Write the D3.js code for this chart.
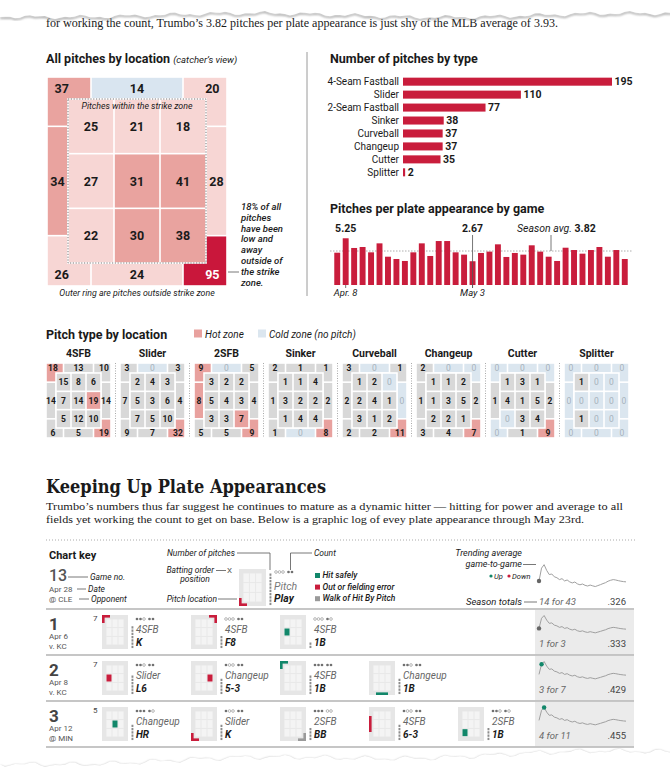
<!DOCTYPE html>
<html>
<head>
<meta charset="utf-8">
<script src="https://d3js.org/d3.v7.min.js"></script>
<style>
  body { margin: 0; background: #fff; }
  svg { display: block; }
  text { font-family: Roboto, "Liberation Sans", sans-serif; fill: #1a1a1a; }
  .title { font-size: 12.5px; font-weight: 700; }
  .it { font-style: italic; }
  .serif { font-family: "Liberation Serif", "DejaVu Serif", serif; }
  .slab { font-family: "DejaVu Serif", serif; font-weight: 700; }
</style>
</head>
<body>
<svg id="page" width="670" height="777"></svg>
<script>
// ---------- data ----------
const topText = "for working the count, Trumbo’s 3.82 pitches per plate appearance is just shy of the MLB average of 3.93.";

// zone cells: outer ring [TL, T, TR, L, R, BL, B, BR], inner 3x3 row by row
const zoneOuter = [37, 14, 20, 34, 28, 26, 24, 95];
const zoneInner = [25, 21, 18, 27, 31, 41, 22, 30, 38];
const zoneNote = ["18% of all", "pitches", "have been", "low and", "away", "outside of", "the strike", "zone."];

const pitchTypes = ["4-Seam Fastball", "Slider", "2-Seam Fastball", "Sinker", "Curveball", "Changeup", "Cutter", "Splitter"];
const pitchCounts = [195, 110, 77, 38, 37, 37, 35, 2];

const ppaValues = [3.63, 5.25, 4.16, 4.27, 3.67, 4.68, 3.18, 2.92, 2.70, 3.67, 4.68, 3.26,
  4.94, 4.94, 3.67, 3.41, 2.67, 3.60, 3.75, 4.57, 3.15, 3.60, 3.41, 4.46, 3.75, 3.18,
  2.70, 4.19, 3.93, 3.52, 3.93, 4.27, 3.18, 3.93, 2.92];
const ppaSeasonAvg = 3.82;
const ppaTickGames = [1, 16];
const ppaTickLabels = ["Apr. 8", "May 3"];

const typeNames = ["4SFB", "Slider", "2SFB", "Sinker", "Curveball", "Changeup", "Cutter", "Splitter"];
const typeOuter = [
  [18, 13, 10, 14, 14, 6, 5, 19],
  [3, 0, 3, 7, 4, 9, 7, 32],
  [9, 0, 5, 8, 4, 5, 5, 9],
  [2, 1, 1, 1, 2, 1, 0, 8],
  [3, 0, 1, 2, 0, 2, 2, 11],
  [2, 0, 0, 1, 2, 3, 4, 7],
  [0, 0, 0, 1, 2, 0, 1, 9],
  [0, 0, 0, 0, 0, 0, 0, 0]
];
const typeInner = [
  [15, 8, 6, 7, 14, 19, 5, 12, 10],
  [2, 4, 3, 5, 3, 6, 7, 5, 10],
  [3, 2, 2, 5, 4, 3, 3, 3, 7],
  [1, 1, 4, 3, 2, 2, 1, 4, 4],
  [1, 2, 0, 2, 4, 1, 3, 1, 2],
  [1, 1, 2, 1, 3, 5, 2, 2, 1],
  [1, 3, 1, 4, 1, 5, 0, 3, 4],
  [1, 0, 0, 0, 0, 0, 1, 0, 0]
];
// hot cells, same numbering (0-7 outer, 8-16 inner)
const typeHot = [[0, 7, 13], [7], [0, 3, 7, 16], [7], [7], [7], [7], []];

const introLines = [
  "Trumbo’s numbers thus far suggest he continues to mature as a dynamic hitter — hitting for power and average to all",
  "fields yet working the count to get on base. Below is a graphic log of evey plate appearance through May 23rd."
];

const gameNumbers = [1, 2, 3];
const gameDates = ["Apr 6", "Apr 8", "Apr 12"];
const gameOpponents = ["v. KC", "v. KC", "@ MIN"];
const battingOrder = [7, 7, 5];
const gameTotals = ["1 for 3", "3 for 7", "4 for 11"];
const gameAverages = [".333", ".429", ".455"];

const paPitchTypes = [["4SFB", "4SFB", "4SFB"], ["Slider", "Changeup", "4SFB", "Changeup"], ["Changeup", "Slider", "2SFB", "4SFB", "2SFB"]];
const paPlays = [["K", "F8", "1B"], ["L6", "5-3", "1B", "1B"], ["HR", "K", "BB", "6-3", "1B"]];
const paResults = [["out", "out", "hit"], ["out", "out", "hit", "hit"], ["hit", "out", "walk", "out", "hit"]];
const paLocations = [[0, 2, 11], [11, 13, 0, 6], [12, 5, 7, 3, 14]];
const paPitchCounts = [[7, 4, 2], [6, 5, 6, 5], [5, 5, 4, 5, 4]];
const paBalls = [[2, 0, 0], [2, 1, 3, 2], [3, 1, 3, 1, 2]];
const paStrikes = [[2, 2, 1], [2, 2, 2, 2], [1, 2, 0, 2, 1]];

const trendAverages = [0.333, 0.429, 0.455, 0.412, 0.381, 0.385, 0.364, 0.357, 0.343, 0.350,
  0.333, 0.340, 0.326, 0.318, 0.325, 0.311, 0.304, 0.310, 0.300, 0.295, 0.302, 0.296,
  0.291, 0.298, 0.305, 0.313, 0.320, 0.331, 0.338, 0.343, 0.340, 0.335, 0.331, 0.328, 0.326];

// ---------- setup ----------
const svg = d3.select("#page");
const RED = "#c91d3c", GREEN = "#12876a", WALK = "#9a9a9a";
const resultColor = { hit: GREEN, out: RED, walk: WALK };

function zoneCells(x0, y0, w, h, ring) {
  const cx = d3.scaleBand().domain([0, 1, 2]).range([x0 + ring[0], x0 + w - ring[2]]);
  const cy = d3.scaleBand().domain([0, 1, 2]).range([y0 + ring[1], y0 + h - ring[3]]);
  const bw = cx.bandwidth(), bh = cy.bandwidth();
  const x1 = x0 + w, y1 = y0 + h;
  const mL = cx(0) + bw / 2, mR = cx(2) + bw / 2, mT = cy(0) + bh / 2, mB = cy(2) + bh / 2;
  const midX = (x0 + x1) / 2, midY = (y0 + y1) / 2;
  const cL = x0 + ring[0] * 0.7, cR = x1 - ring[2] * 0.7;
  const rT = y0 + ring[1] / 2, rB = y1 - ring[3] / 2;
  const cells = [
    { x0: x0, y0: y0, x1: mL, y1: mT, lx: cL, ly: rT },
    { x0: mL, y0: y0, x1: mR, y1: cy(0), lx: midX, ly: rT },
    { x0: mR, y0: y0, x1: x1, y1: mT, lx: cR, ly: rT },
    { x0: x0, y0: mT, x1: cx(0), y1: mB, lx: x0 + ring[0] / 2, ly: midY },
    { x0: cx(2) + bw, y0: mT, x1: x1, y1: mB, lx: x1 - ring[2] / 2, ly: midY },
    { x0: x0, y0: mB, x1: mL, y1: y1, lx: cL, ly: rB },
    { x0: mL, y0: cy(2) + bh, x1: mR, y1: y1, lx: midX, ly: rB },
    { x0: mR, y0: mB, x1: x1, y1: y1, lx: cR, ly: rB }
  ];
  [0, 1, 2].forEach(r => [0, 1, 2].forEach(c => {
    cells.push({ x0: cx(c), y0: cy(r), x1: cx(c) + bw, y1: cy(r) + bh, lx: cx(c) + bw / 2, ly: cy(r) + bh / 2 });
  }));
  cells.box = { x0: cx(0), y0: cy(0), x1: cx(2) + bw, y1: cy(2) + bh };
  return cells;
}

function drawZone(g, cells, values, fill, opt) {
  const gp = opt.gap / 2;
  const rectAttrs = sel => sel
    .attr("x", d => d.x0 + gp).attr("y", d => d.y0 + gp)
    .attr("width", d => d.x1 - d.x0 - 2 * gp).attr("height", d => d.y1 - d.y0 - 2 * gp);
  g.selectAll(".outer").data(cells.slice(0, 8)).join("rect").attr("class", "outer")
    .call(rectAttrs).attr("fill", (d, i) => fill(values[i], i));
  const b = cells.box;
  g.append("rect").attr("x", b.x0 - gp).attr("y", b.y0 - gp)
    .attr("width", b.x1 - b.x0 + 2 * gp).attr("height", b.y1 - b.y0 + 2 * gp).attr("fill", "#fff");
  g.selectAll(".inner").data(cells.slice(8)).join("rect").attr("class", "inner")
    .call(rectAttrs).attr("fill", (d, i) => fill(values[i + 8], i + 8));
  g.selectAll(".val").data(cells).join("text").attr("class", "val")
    .attr("x", d => d.lx).attr("y", d => d.ly + opt.dy)
    .attr("text-anchor", "middle").attr("font-size", opt.size)
    .attr("font-weight", (d, i) => opt.weight(values[i]))
    .style("fill", (d, i) => opt.textFill(values[i]))
    .text((d, i) => values[i]);
}

// ---------- top line ----------
svg.append("text").attr("class", "serif").attr("x", 46).attr("y", 27).attr("font-size", 11.5)
  .attr("textLength", 512).attr("lengthAdjust", "spacingAndGlyphs").text(topText);

// ---------- all pitches by location ----------
const t1 = svg.append("text").attr("class", "title").attr("x", 46).attr("y", 63).text("All pitches by location ");
t1.append("tspan").attr("class", "it").attr("font-weight", 400).attr("font-size", 9.5).text("(catcher’s view)");

const bigColor = d3.scaleThreshold().domain([16, 29, 60]).range(["#d9e5f0", "#f7d6d4", "#e9a39f", "#c9173b"]);
const bigCells = zoneCells(47, 77, 180, 209, [21, 22, 21, 23]);
const bigG = svg.append("g");
drawZone(bigG, bigCells, zoneOuter.concat(zoneInner), v => bigColor(v), {
  gap: 1.6, size: 12.5, dy: 4.5, weight: () => 700,
  textFill: v => v >= 60 ? "#fff" : "#1a1a1a"
});
bigG.append("rect").attr("x", bigCells.box.x0).attr("y", bigCells.box.y0)
  .attr("width", bigCells.box.x1 - bigCells.box.x0).attr("height", bigCells.box.y1 - bigCells.box.y0)
  .attr("fill", "none").attr("stroke", "#777").attr("stroke-width", 1).attr("stroke-dasharray", "1.2,1.6");
bigG.append("text").attr("class", "it").attr("x", (bigCells.box.x0 + bigCells.box.x1) / 2).attr("y", bigCells.box.y0 + 10)
  .attr("text-anchor", "middle").attr("font-size", 8.8).text("Pitches within the strike zone");
svg.append("text").attr("class", "it").attr("x", 137).attr("y", 296).attr("text-anchor", "middle")
  .attr("font-size", 8.8).text("Outer ring are pitches outside strike zone");

svg.append("g").selectAll("text").data(zoneNote).join("text").attr("class", "it")
  .attr("x", 241).attr("y", (d, i) => 210 + i * 10.8).attr("font-size", 9.5).attr("font-weight", 500).text(d => d);
svg.append("line").attr("x1", 228).attr("x2", 239).attr("y1", 272).attr("y2", 272).attr("stroke", "#555").attr("stroke-width", 0.8);

svg.append("line").attr("x1", 307).attr("x2", 307).attr("y1", 52).attr("y2", 296).attr("stroke", "#9a9a9a").attr("stroke-width", 1);

// ---------- number of pitches by type ----------
svg.append("text").attr("class", "title").attr("x", 330).attr("y", 63).text("Number of pitches by type");
const barY = d3.scaleBand().domain(pitchTypes).range([75.2, 178.8]).paddingInner(0.38).paddingOuter(0.19);
const barX = d3.scaleLinear().domain([0, d3.max(pitchCounts)]).range([403, 612]);
const barG = svg.append("g");
barG.selectAll("rect").data(pitchTypes).join("rect")
  .attr("x", barX(0)).attr("y", d => barY(d)).attr("height", barY.bandwidth())
  .attr("width", (d, i) => barX(pitchCounts[i]) - barX(0)).attr("fill", RED);
barG.selectAll(".cat").data(pitchTypes).join("text").attr("class", "cat")
  .attr("x", 399).attr("y", d => barY(d) + barY.bandwidth() / 2 + 3.6).attr("text-anchor", "end")
  .attr("font-size", 10).text(d => d);
barG.selectAll(".num").data(pitchTypes).join("text").attr("class", "num")
  .attr("x", (d, i) => barX(pitchCounts[i]) + 2.5).attr("y", d => barY(d) + barY.bandwidth() / 2 + 3.8)
  .attr("font-size", 10.5).attr("font-weight", 700).text((d, i) => pitchCounts[i]);

// ---------- pitches per plate appearance ----------
svg.append("text").attr("class", "title").attr("x", 330).attr("y", 213).text("Pitches per plate appearance by game");
const ppaX = d3.scaleBand().domain(d3.range(ppaValues.length)).range([333, 629]).paddingInner(0.3).paddingOuter(0.15);
const ppaY = d3.scaleLinear().domain([0, 6]).range([285, 231.6]);
const ppaG = svg.append("g");
ppaG.append("line").attr("x1", 330).attr("x2", 632).attr("y1", ppaY(ppaSeasonAvg)).attr("y2", ppaY(ppaSeasonAvg))
  .attr("stroke", "#999").attr("stroke-width", 0.8).attr("stroke-dasharray", "1.5,1.5");
ppaG.selectAll("rect").data(ppaValues).join("rect")
  .attr("x", (d, i) => ppaX(i)).attr("width", ppaX.bandwidth())
  .attr("y", d => ppaY(d)).attr("height", d => ppaY(0) - ppaY(d)).attr("fill", RED);
const ppaMax = d3.maxIndex(ppaValues), ppaMin = d3.minIndex(ppaValues);
const cxOf = i => ppaX(i) + ppaX.bandwidth() / 2;
ppaG.append("text").attr("x", cxOf(ppaMax)).attr("y", 232).attr("text-anchor", "middle")
  .attr("font-size", 10.5).attr("font-weight", 700).text(ppaValues[ppaMax].toFixed(2));
ppaG.append("text").attr("x", cxOf(ppaMin)).attr("y", 232).attr("text-anchor", "middle")
  .attr("font-size", 10.5).attr("font-weight", 700).text(ppaValues[ppaMin].toFixed(2));
ppaG.append("line").attr("x1", cxOf(ppaMin)).attr("x2", cxOf(ppaMin)).attr("y1", 235).attr("y2", 288)
  .attr("stroke", "#555").attr("stroke-width", 0.8);
ppaG.selectAll(".tick").data(ppaTickGames).join("line").attr("class", "tick")
  .attr("x1", d => cxOf(d)).attr("x2", d => cxOf(d)).attr("y1", ppaY(0)).attr("y2", 288)
  .attr("stroke", "#555").attr("stroke-width", 0.8);
ppaG.selectAll(".tl").data(ppaTickGames).join("text").attr("class", "tl it")
  .attr("x", d => cxOf(d)).attr("y", 296).attr("text-anchor", "middle").attr("font-size", 9.5)
  .text((d, i) => ppaTickLabels[i]);
const avgLabel = ppaG.append("text").attr("x", 517).attr("y", 232).attr("font-size", 10.5);
avgLabel.append("tspan").attr("class", "it").text("Season avg. ");
avgLabel.append("tspan").attr("font-weight", 700).text(ppaSeasonAvg.toFixed(2));
ppaG.append("line").attr("x1", 551).attr("x2", 551).attr("y1", 235).attr("y2", ppaY(ppaSeasonAvg))
  .attr("stroke", "#555").attr("stroke-width", 0.8);

// ---------- pitch type by location ----------
svg.append("text").attr("class", "title").attr("x", 46).attr("y", 339).text("Pitch type by location");
const HOT = "#e8a19e", COLD = "#dbe6ef", PLAIN = "#d8d8d8";
svg.append("rect").attr("x", 194).attr("y", 329.5).attr("width", 8).attr("height", 8).attr("fill", HOT);
svg.append("text").attr("class", "it").attr("x", 205).attr("y", 337.5).attr("font-size", 10).text("Hot zone");
svg.append("rect").attr("x", 258).attr("y", 329.5).attr("width", 8).attr("height", 8).attr("fill", COLD);
svg.append("text").attr("class", "it").attr("x", 269).attr("y", 337.5).attr("font-size", 10).text("Cold zone (no pitch)");

const multiX = d3.scaleBand().domain(typeNames).range([46, 629]).paddingInner(9 / 74).paddingOuter(0);
typeNames.forEach((name, k) => {
  const x0 = multiX(name), w = multiX.bandwidth();
  const g = svg.append("g");
  g.append("text").attr("x", x0 + w / 2).attr("y", 357).attr("text-anchor", "middle")
    .attr("font-size", 10.5).attr("font-weight", 700).text(name);
  const cells = zoneCells(x0, 363, w, 75, [10, 10, 10, 10]);
  drawZone(g, cells, typeOuter[k].concat(typeInner[k]),
    (v, i) => v === 0 ? COLD : (typeHot[k].includes(i) ? HOT : PLAIN), {
      gap: 1.6, size: 8.5, dy: 3, weight: v => v === 0 ? 400 : 700,
      textFill: v => v === 0 ? "#a7b2bc" : "#1a1a1a"
    });
  if (k > 0) {
    g.append("line").attr("x1", x0 - 4.5).attr("x2", x0 - 4.5).attr("y1", 363).attr("y2", 438)
      .attr("stroke", "#aaa").attr("stroke-width", 1).attr("stroke-dasharray", "1,1.5");
  }
});

// ---------- keeping up plate appearances ----------
svg.append("text").attr("class", "slab").attr("x", 46).attr("y", 493).attr("font-size", 18)
  .attr("textLength", 280).attr("lengthAdjust", "spacingAndGlyphs").text("Keeping Up Plate Appearances");
svg.selectAll(".intro").data(introLines).join("text").attr("class", "intro serif")
  .attr("x", 46).attr("y", (d, i) => 510 + i * 12.5).attr("font-size", 11.3)
  .attr("textLength", (d, i) => i === 0 ? 577 : 538).attr("lengthAdjust", "spacingAndGlyphs").text(d => d);

// ---------- helpers for the log ----------
function markerRects(cells, loc) {
  const t = 2.6, a = 8;
  const x0 = cells[0].x0, y0 = cells[0].y0, x1 = cells[7].x1, y1 = cells[7].y1;
  const mx = (x0 + x1) / 2, my = (y0 + y1) / 2;
  const c = cells[loc];
  switch (loc) {
    case 0: return [[x0, y0, a, t], [x0, y0, t, a]];
    case 2: return [[x1 - a, y0, a, t], [x1 - t, y0, t, a]];
    case 5: return [[x0, y1 - t, a, t], [x0, y1 - a, t, a]];
    case 7: return [[x1 - a, y1 - t, a, t], [x1 - t, y1 - a, t, a]];
    case 1: return [[mx - 6, y0, 12, t]];
    case 6: return [[mx - 6, y1 - t, 12, t]];
    case 3: return [[x0, my - 8, t, 16]];
    case 4: return [[x1 - t, my - 8, t, 16]];
    default: {
      const cx = (c.x0 + c.x1) / 2, cy = (c.y0 + c.y1) / 2;
      return [[cx - 2.5, cy - 3.5, 5, 7]];
    }
  }
}

function paZone(g, x, y, w, h, loc, color) {
  const cells = zoneCells(x, y, w, h, [4, 4, 4, 4]);
  g.append("rect").attr("x", x).attr("y", y).attr("width", w).attr("height", h).attr("fill", "#e6e6e6");
  g.selectAll(null).data(cells.slice(8)).join("rect")
    .attr("x", d => d.x0 + 0.4).attr("y", d => d.y0 + 0.4)
    .attr("width", d => d.x1 - d.x0 - 0.8).attr("height", d => d.y1 - d.y0 - 0.8).attr("fill", "#f4f4f4");
  g.selectAll(null).data(markerRects(cells, loc)).join("rect")
    .attr("x", d => d[0]).attr("y", d => d[1]).attr("width", d => d[2]).attr("height", d => d[3]).attr("fill", color);
}

function countDots(g, x, y, balls, strikes) {
  const dots = [0, 1, 2].map(i => ({ cx: x + i * 3.5, on: i < balls }))
    .concat([0, 1].map(i => ({ cx: x + 12.5 + i * 3.5, on: i < strikes })));
  g.selectAll(null).data(dots).join("circle")
    .attr("cx", d => d.cx).attr("cy", y).attr("r", 1.35)
    .attr("fill", d => d.on ? "#707070" : "#fff")
    .attr("stroke", d => d.on ? "none" : "#8a8a8a").attr("stroke-width", 0.6);
}

function pitchBar(g, x, yBottom, n) {
  g.selectAll(null).data(d3.range(n)).join("rect")
    .attr("x", x).attr("y", i => yBottom - (i + 1) * 3.25).attr("width", 1.9).attr("height", 2.3).attr("fill", "#8c8c8c");
}

function sparkline(g, x0, x1, yTop, yBot, dotIndex) {
  const sx = d3.scaleLinear().domain([0, trendAverages.length - 1]).range([x0, x1]);
  const sy = d3.scaleLinear().domain([0.28, 0.46]).range([yBot, yTop]);
  g.append("path").datum(trendAverages)
    .attr("d", d3.line().x((d, i) => sx(i)).y(d => sy(d)))
    .attr("fill", "none").attr("stroke", "#a0a0a0").attr("stroke-width", 1);
  const prev = trendAverages[dotIndex - 1];
  const cur = trendAverages[dotIndex];
  const col = dotIndex === 0 ? "#666" : (cur >= prev ? GREEN : RED);
  g.append("circle").attr("cx", sx(dotIndex)).attr("cy", sy(cur)).attr("r", 2.2).attr("fill", col);
}

// ---------- chart key ----------
const key = svg.append("g");
key.append("line").attr("x1", 46).attr("x2", 636).attr("y1", 540).attr("y2", 540)
  .attr("stroke", "#aaa").attr("stroke-width", 1).attr("stroke-dasharray", "1,2");
key.append("text").attr("x", 49).attr("y", 559).attr("font-size", 11).attr("font-weight", 700).text("Chart key");
key.append("text").attr("x", 49).attr("y", 581).attr("font-size", 16).attr("font-weight", 500).style("fill", "#555").text("13");
key.append("text").attr("x", 49).attr("y", 592).attr("font-size", 8).style("fill", "#555").text("Apr 28");
key.append("text").attr("x", 49).attr("y", 602).attr("font-size", 8).style("fill", "#555").text("@ CLE");
const keyLead = [[68, 88, 577], [77, 86, 589], [79, 89, 599]];
key.selectAll(".kl").data(keyLead).join("line").attr("class", "kl")
  .attr("x1", d => d[0]).attr("x2", d => d[1]).attr("y1", d => d[2]).attr("y2", d => d[2])
  .attr("stroke", "#555").attr("stroke-width", 0.8);
key.append("text").attr("class", "it").attr("x", 90).attr("y", 580).attr("font-size", 8.5).text("Game no.");
key.append("text").attr("class", "it").attr("x", 88).attr("y", 592).attr("font-size", 8.5).text("Date");
key.append("text").attr("class", "it").attr("x", 91).attr("y", 602).attr("font-size", 8.5).text("Opponent");

key.append("text").attr("class", "it").attr("x", 235).attr("y", 556).attr("text-anchor", "end").attr("font-size", 8.5).text("Number of pitches");
key.append("path").attr("d", "M237,553H270V570").attr("fill", "none").attr("stroke", "#555").attr("stroke-width", 0.8);
key.append("text").attr("class", "it").attr("x", 214).attr("y", 573).attr("text-anchor", "end").attr("font-size", 8.5).text("Batting order");
key.append("text").attr("class", "it").attr("x", 195).attr("y", 582).attr("text-anchor", "middle").attr("font-size", 8.5).text("position");
key.append("line").attr("x1", 216).attr("x2", 226).attr("y1", 570.5).attr("y2", 570.5).attr("stroke", "#555").attr("stroke-width", 0.8);
key.append("text").attr("x", 227).attr("y", 573).attr("font-size", 8).style("fill", "#555").text("X");
key.append("text").attr("class", "it").attr("x", 217).attr("y", 602).attr("text-anchor", "end").attr("font-size", 8.5).text("Pitch location");
key.append("line").attr("x1", 218).attr("x2", 237).attr("y1", 599).attr("y2", 599).attr("stroke", "#555").attr("stroke-width", 0.8);
paZone(key, 239, 569, 27, 37, 5, RED);
pitchBar(key, 269.5, 606, 10);
countDots(key, 276, 572, 0, 2);
key.append("path").attr("d", "M290.5,570V553H312").attr("fill", "none").attr("stroke", "#555").attr("stroke-width", 0.8);
key.append("text").attr("class", "it").attr("x", 314).attr("y", 556).attr("font-size", 8.5).text("Count");
key.append("text").attr("class", "it").attr("x", 274).attr("y", 590).attr("font-size", 10.5).style("fill", "#777").text("Pitch");
key.append("text").attr("class", "it").attr("x", 274).attr("y", 602).attr("font-size", 10.5).attr("font-weight", 700).text("Play");

const keyResults = ["hit", "out", "walk"];
const keyResultLabels = ["Hit safely", "Out or fielding error", "Walk of Hit By Pitch"];
key.selectAll(".kr").data(keyResults).join("rect").attr("class", "kr")
  .attr("x", 315).attr("y", (d, i) => 573 + i * 11.6).attr("width", 5).attr("height", 5).attr("fill", d => resultColor[d]);
key.selectAll(".krl").data(keyResultLabels).join("text").attr("class", "krl it")
  .attr("x", 322.5).attr("y", (d, i) => 578 + i * 11.6).attr("font-size", 8.5).attr("font-weight", 500).text(d => d);

key.append("text").attr("class", "it").attr("x", 522).attr("y", 556).attr("text-anchor", "end").attr("font-size", 9).text("Trending average");
key.append("text").attr("class", "it").attr("x", 522).attr("y", 567).attr("text-anchor", "end").attr("font-size", 9).text("game-to-game");
key.append("line").attr("x1", 523).attr("x2", 536).attr("y1", 564.5).attr("y2", 564.5).attr("stroke", "#555").attr("stroke-width", 0.8);
key.append("circle").attr("cx", 491).attr("cy", 576).attr("r", 1.6).attr("fill", GREEN);
key.append("text").attr("class", "it").attr("x", 494).attr("y", 579).attr("font-size", 7.5).text("Up");
key.append("circle").attr("cx", 509).attr("cy", 576).attr("r", 1.6).attr("fill", RED);
key.append("text").attr("class", "it").attr("x", 512).attr("y", 579).attr("font-size", 7.5).text("Down");
key.append("text").attr("class", "it").attr("x", 522).attr("y", 605).attr("text-anchor", "end").attr("font-size", 9.5).text("Season totals");
key.append("line").attr("x1", 524).attr("x2", 537).attr("y1", 602).attr("y2", 602).attr("stroke", "#555").attr("stroke-width", 0.8);
key.append("text").attr("class", "it").attr("x", 539).attr("y", 605).attr("font-size", 9.5).style("fill", "#666").text("14 for 43");
key.append("text").attr("x", 626).attr("y", 605).attr("text-anchor", "end").attr("font-size", 9.5).style("fill", "#444").text(".326");
sparkline(key, 539, 626, 564, 588, 0);

// ---------- game rows ----------
const rowY = d3.scaleLinear().domain([0, 1]).range([609, 655]);
const blockX = d3.scaleLinear().domain([0, 1]).range([102, 191]);
const rowsG = svg.append("g");
gameNumbers.forEach((num, r) => {
  const T = rowY(r);
  const g = rowsG.append("g");
  g.append("rect").attr("x", 535).attr("y", T + 1).attr("width", 99).attr("height", 44.5).attr("fill", "#ebebeb");
  g.append("text").attr("x", 49).attr("y", T + 20.5).attr("font-size", 17).attr("font-weight", 700).style("fill", "#444").text(num);
  g.append("text").attr("x", 49).attr("y", T + 30).attr("font-size", 8).style("fill", "#555").text(gameDates[r]);
  g.append("text").attr("x", 49).attr("y", T + 39.5).attr("font-size", 8).style("fill", "#555").text(gameOpponents[r]);
  g.append("text").attr("x", blockX(0) - 9).attr("y", T + 12).attr("font-size", 8).style("fill", "#444").text(battingOrder[r]);
  paPitchTypes[r].forEach((p, j) => {
    const bx = blockX(j);
    paZone(g, bx, T + 6, 26, 34, paLocations[r][j], resultColor[paResults[r][j]]);
    pitchBar(g, bx + 29.5, T + 40, paPitchCounts[r][j]);
    countDots(g, bx + 35, T + 10, paBalls[r][j], paStrikes[r][j]);
    g.append("text").attr("class", "it").attr("x", bx + 34).attr("y", T + 24).attr("font-size", 10).style("fill", "#666").text(p);
    g.append("text").attr("class", "it").attr("x", bx + 34).attr("y", T + 37).attr("font-size", 10).attr("font-weight", 700).text(paPlays[r][j]);
  });
  sparkline(g, 539, 626, T + 6, T + 25, r);
  g.append("text").attr("class", "it").attr("x", 539).attr("y", T + 38).attr("font-size", 9.5).style("fill", "#666").text(gameTotals[r]);
  g.append("text").attr("x", 626).attr("y", T + 38).attr("text-anchor", "end").attr("font-size", 9.5).style("fill", "#444").text(gameAverages[r]);
});
rowsG.selectAll(".rl").data(d3.range(gameNumbers.length + 1)).join("line").attr("class", "rl")
  .attr("x1", 46).attr("x2", 634).attr("y1", d => rowY(d)).attr("y2", d => rowY(d))
  .attr("stroke", "#b3b3b3").attr("stroke-width", 1.5);

// ---------- torn paper edges ----------
const defs = svg.append("defs");
defs.append("filter").attr("id", "soft").append("feGaussianBlur").attr("stdDeviation", 1);
const edgeXs = d3.range(0, 676, 5);
const topEdge = x => 15 + 1.3 * Math.sin(x / 7.3) + 0.9 * Math.sin(x / 2.9 + 1.7) + 2 * Math.sin(x / 61 + 0.6);
const botEdge = x => 764 - x * 0.018 + 1.6 * Math.sin(x / 6.7 + 0.4) + 1.1 * Math.sin(x / 3.1) + 2 * Math.sin(x / 53);
const tl = d3.line().x(x => x).y(topEdge);
const bl = d3.line().x(x => x).y(botEdge);
svg.append("path").attr("d", tl(edgeXs)).attr("fill", "none").attr("stroke", "#999").attr("stroke-width", 1.6).attr("filter", "url(#soft)")
  .attr("transform", "translate(0,1)");
svg.append("path").attr("d", tl(edgeXs) + "L675,0L0,0Z").attr("fill", "#fff");
svg.append("path").attr("d", bl(edgeXs)).attr("fill", "none").attr("stroke", "#999").attr("stroke-width", 1.6).attr("filter", "url(#soft)")
  .attr("transform", "translate(0,1.5)");
svg.append("path").attr("d", bl(edgeXs) + "L675,777L0,777Z").attr("fill", "#fff");
</script>
</body>
</html>
